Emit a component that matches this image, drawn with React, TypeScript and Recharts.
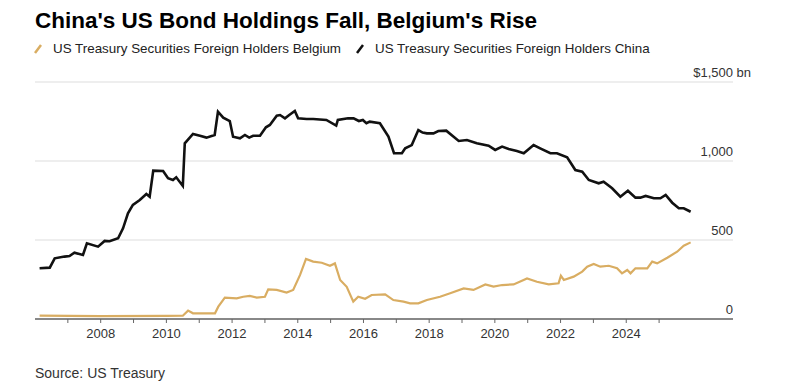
import React from "react";
import { LineChart, Line, XAxis, YAxis, CartesianGrid } from "recharts";

// readings, $bn, dates as decimal years
const chinaDates = [
  2006.14, 2006.45, 2006.6, 2006.9, 2007.05, 2007.2, 2007.46, 2007.58, 2007.92,
  2008.12, 2008.27, 2008.53, 2008.68, 2008.83, 2008.98, 2009.19, 2009.39, 2009.49,
  2009.6, 2009.9, 2010.05, 2010.2, 2010.3, 2010.5, 2010.56, 2010.81, 2011.02,
  2011.22, 2011.47, 2011.57, 2011.73, 2011.93, 2012.03, 2012.24, 2012.39, 2012.52,
  2012.64, 2012.85, 2013.03, 2013.15, 2013.36, 2013.46, 2013.61, 2013.74, 2013.91,
  2014.01, 2014.27, 2014.47, 2014.87, 2015.17, 2015.22, 2015.53, 2015.7, 2015.86,
  2015.98, 2016.09, 2016.19, 2016.5, 2016.76, 2016.93, 2017.17, 2017.27, 2017.47,
  2017.67, 2017.8, 2017.93, 2018.13, 2018.28, 2018.52, 2018.9, 2019.15, 2019.45,
  2019.81, 2020.01, 2020.22, 2020.42, 2020.67, 2020.88, 2021.18, 2021.38, 2021.69,
  2021.89, 2022.2, 2022.45, 2022.66, 2022.86, 2023.16, 2023.31, 2023.57, 2023.82,
  2024.05, 2024.28, 2024.43, 2024.59, 2024.84, 2025.04, 2025.2, 2025.4, 2025.6,
  2025.75, 2025.96,
];
const chinaValues = [
  321, 325, 384, 395, 399, 420, 405, 479, 458,
  494, 492, 511, 574, 669, 722, 753, 791, 774,
  939, 937, 891, 880, 897, 842, 1112, 1171, 1160,
  1148, 1165, 1312, 1274, 1253, 1154, 1144, 1165, 1148,
  1160, 1160, 1213, 1228, 1287, 1291, 1270, 1291, 1317,
  1270, 1266, 1266, 1260, 1224, 1260, 1270, 1270, 1253,
  1260, 1239, 1249, 1239, 1154, 1049, 1049, 1080, 1101,
  1196, 1180, 1175, 1175, 1190, 1192, 1127, 1133, 1112,
  1097, 1070, 1091, 1076, 1063, 1049, 1101, 1080, 1049,
  1049, 1024, 943, 932, 880, 859, 869, 827, 774,
  812, 768, 768, 779, 764, 764, 785, 736, 701,
  701, 679,
];

const belgiumDates = [
  2006.14, 2008.0, 2010.0, 2010.5, 2010.66, 2010.81, 2011.48, 2011.58, 2011.78,
  2012.14, 2012.34, 2012.54, 2012.75, 2013.0, 2013.1, 2013.36, 2013.66, 2013.86,
  2014.07, 2014.25, 2014.47, 2014.73, 2014.98, 2015.13, 2015.29, 2015.49, 2015.69,
  2015.84, 2016.05, 2016.25, 2016.66, 2016.91, 2017.22, 2017.42, 2017.67, 2017.93,
  2018.33, 2018.64, 2019.05, 2019.35, 2019.71, 2019.96, 2020.22, 2020.57, 2020.98,
  2021.28, 2021.64, 2021.94, 2022.01, 2022.1, 2022.4, 2022.66, 2022.81, 2023.01,
  2023.21, 2023.47, 2023.72, 2023.87, 2024.03, 2024.13, 2024.28, 2024.64, 2024.79,
  2024.94, 2025.25, 2025.55, 2025.75, 2025.96,
];
const belgiumValues = [
  21, 18, 20, 21, 53, 36, 36, 78, 135,
  131, 141, 146, 135, 141, 188, 184, 167, 184,
  279, 380, 363, 356, 337, 352, 247, 204, 110,
  141, 128, 152, 156, 120, 110, 99, 99, 120,
  141, 163, 194, 184, 219, 205, 215, 219, 257,
  236, 219, 226, 274, 247, 268, 300, 331, 348,
  331, 337, 321, 289, 310, 289, 321, 321, 363,
  352, 388, 426, 464, 485,
];

const yearTicks = [
  2007, 2008, 2009, 2010, 2011, 2012, 2013, 2014, 2015, 2016,
  2017, 2018, 2019, 2020, 2021, 2022, 2023, 2024, 2025,
];
const valueTicks = [0, 500, 1000, 1500];

const CHINA = "#111111";
const BELGIUM = "#d9ad62";
const FONT = "'Liberation Sans', Arial, Helvetica, sans-serif";

// one table for the chart, each series fills its own key
const buildRows = () => {
  const rows = new Map<number, any>();
  chinaDates.forEach((d, i) => {
    rows.set(d, { ...(rows.get(d) || { year: d }), china: chinaValues[i] });
  });
  belgiumDates.forEach((d, i) => {
    rows.set(d, { ...(rows.get(d) || { year: d }), belgium: belgiumValues[i] });
  });
  return Array.from(rows.values()).sort((a, b) => a.year - b.year);
};
const data = buildRows();

const ValueTick = ({ x, y, payload }: any) => {
  const v = payload.value;
  if (v === 1500) {
    return (
      <g fontSize={13} fill="#333" fontFamily={FONT}>
        <text x={x} y={y - 5} textAnchor="end">$1,500</text>
        <text x={x + 3.5} y={y - 5}>bn</text>
      </g>
    );
  }
  return (
    <text x={x} y={y - 5} textAnchor="end" fontSize={13} fill="#333" fontFamily={FONT}>
      {v.toLocaleString("en-US")}
    </text>
  );
};

export default function App() {
  return (
    <div
      style={{
        position: "relative",
        width: 800,
        height: 392,
        margin: -8,
        background: "#fff",
        fontFamily: FONT,
      }}
    >
      <svg
        width={800}
        height={392}
        style={{ position: "absolute", left: 0, top: 0, pointerEvents: "none" }}
        fontFamily={FONT}
      >
        <text x={35} y={28} fontSize={22.5} fontWeight={700} fill="#000">
          China's US Bond Holdings Fall, Belgium's Rise
        </text>
        <line x1={35} y1={53} x2={41} y2={45} stroke={BELGIUM} strokeWidth={2.5} />
        <text x={53} y={53} fontSize={13.4} fill="#222">
          US Treasury Securities Foreign Holders Belgium
        </text>
        <line x1={357} y1={53} x2={363} y2={45} stroke={CHINA} strokeWidth={2.5} />
        <text x={375} y={53} fontSize={13.4} fill="#222">
          US Treasury Securities Foreign Holders China
        </text>
        <text x={35} y={378} fontSize={14} fill="#333">
          Source: US Treasury
        </text>
      </svg>

      <div style={{ position: "absolute", left: 0, top: 0 }}>
        <LineChart
          width={800}
          height={392}
          data={data}
          margin={{ top: 82, right: 0, bottom: 43, left: 35 }}
        >
          <CartesianGrid vertical={false} stroke="#dddddd" />
          <XAxis
            dataKey="year"
            type="number"
            domain={[2006, 2027.25]}
            allowDataOverflow
            ticks={yearTicks}
            tickFormatter={(v: number) => (v % 2 === 0 ? String(v) : "")}
            height={30}
            tickSize={4}
            tickMargin={6}
            axisLine={{ stroke: "#666", strokeWidth: 1.5 }}
            tickLine={{ stroke: "#666" }}
            tick={{ fill: "#333", fontSize: 13, fontFamily: FONT }}
          />
          <YAxis
            orientation="right"
            domain={[0, 1500]}
            ticks={valueTicks}
            width={67}
            axisLine={false}
            tickLine={false}
            tickSize={0}
            tickMargin={0}
            tick={<ValueTick />}
          />
          <Line
            type="linear"
            dataKey="belgium"
            stroke={BELGIUM}
            strokeWidth={2.2}
            dot={false}
            connectNulls
            isAnimationActive={false}
          />
          <Line
            type="linear"
            dataKey="china"
            stroke={CHINA}
            strokeWidth={2.6}
            dot={false}
            connectNulls
            isAnimationActive={false}
          />
        </LineChart>
      </div>
    </div>
  );
}
